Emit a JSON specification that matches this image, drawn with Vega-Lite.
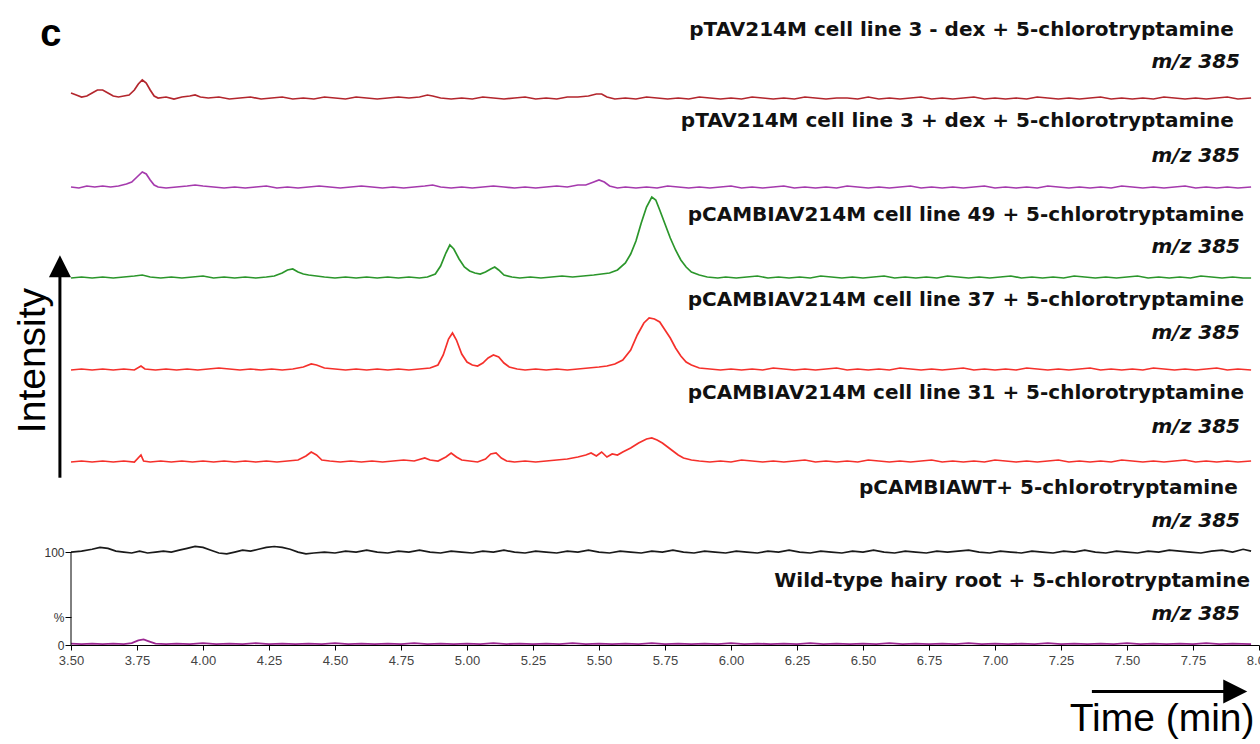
{
  "$schema": "https://vega.github.io/schema/vega-lite/v6.json",
  "width": 1188,
  "height": 645,
  "autosize": {"type": "none"},
  "padding": {"left": 71, "top": 0, "right": 1, "bottom": 99},
  "background": "white",
  "config": {"view": {"stroke": null}},
  "datasets": {
    "dex_minus": [
      {"t":3.50,"v":6},{"t":3.52,"v":4},{"t":3.54,"v":2},{"t":3.56,"v":3},{"t":3.58,"v":6},{"t":3.60,"v":9},{"t":3.62,"v":9},{"t":3.64,"v":6},{"t":3.66,"v":3},{"t":3.68,"v":2},{"t":3.70,"v":3},{"t":3.72,"v":4},{"t":3.74,"v":9},{"t":3.755,"v":15},{"t":3.77,"v":19},{"t":3.785,"v":16},{"t":3.80,"v":9},{"t":3.815,"v":3},{"t":3.83,"v":1},{"t":3.86,"v":2},{"t":3.89,"v":0},{"t":3.92,"v":2},{"t":3.95,"v":3},{"t":3.97,"v":4},{"t":3.99,"v":2},{"t":4.02,"v":1},{"t":4.06,"v":2},{"t":4.10,"v":0},{"t":4.14,"v":1},{"t":4.18,"v":2},{"t":4.22,"v":0},{"t":4.26,"v":1},{"t":4.30,"v":2},{"t":4.34,"v":0},{"t":4.38,"v":1},{"t":4.42,"v":0},{"t":4.46,"v":2},{"t":4.50,"v":1},{"t":4.54,"v":0},{"t":4.58,"v":2},{"t":4.62,"v":1},{"t":4.66,"v":0},{"t":4.70,"v":1},{"t":4.74,"v":2},{"t":4.78,"v":1},{"t":4.82,"v":2},{"t":4.85,"v":4},{"t":4.87,"v":3},{"t":4.90,"v":1},{"t":4.94,"v":0},{"t":4.98,"v":1},{"t":5.02,"v":0},{"t":5.06,"v":2},{"t":5.10,"v":1},{"t":5.14,"v":0},{"t":5.18,"v":1},{"t":5.22,"v":2},{"t":5.26,"v":0},{"t":5.30,"v":1},{"t":5.34,"v":0},{"t":5.38,"v":2},{"t":5.42,"v":2},{"t":5.46,"v":3},{"t":5.49,"v":5},{"t":5.51,"v":5},{"t":5.53,"v":2},{"t":5.56,"v":0},{"t":5.60,"v":1},{"t":5.64,"v":0},{"t":5.68,"v":2},{"t":5.72,"v":1},{"t":5.76,"v":0},{"t":5.80,"v":1},{"t":5.84,"v":0},{"t":5.88,"v":2},{"t":5.92,"v":1},{"t":5.96,"v":0},{"t":6.00,"v":1},{"t":6.04,"v":0},{"t":6.08,"v":2},{"t":6.12,"v":1},{"t":6.16,"v":0},{"t":6.20,"v":1},{"t":6.24,"v":0},{"t":6.28,"v":2},{"t":6.32,"v":1},{"t":6.36,"v":0},{"t":6.40,"v":1},{"t":6.44,"v":1},{"t":6.48,"v":0},{"t":6.52,"v":2},{"t":6.56,"v":0},{"t":6.60,"v":1},{"t":6.64,"v":0},{"t":6.68,"v":1},{"t":6.72,"v":2},{"t":6.76,"v":0},{"t":6.80,"v":1},{"t":6.84,"v":0},{"t":6.88,"v":1},{"t":6.92,"v":2},{"t":6.96,"v":0},{"t":7.00,"v":1},{"t":7.04,"v":0},{"t":7.08,"v":1},{"t":7.12,"v":0},{"t":7.16,"v":2},{"t":7.20,"v":1},{"t":7.24,"v":0},{"t":7.28,"v":1},{"t":7.32,"v":0},{"t":7.36,"v":1},{"t":7.40,"v":2},{"t":7.44,"v":0},{"t":7.48,"v":1},{"t":7.52,"v":0},{"t":7.56,"v":1},{"t":7.60,"v":0},{"t":7.64,"v":2},{"t":7.68,"v":1},{"t":7.72,"v":0},{"t":7.76,"v":1},{"t":7.80,"v":0},{"t":7.84,"v":1},{"t":7.88,"v":2},{"t":7.92,"v":0},{"t":7.97,"v":1}
    ],
    "dex_plus": [
      {"t":3.50,"v":1},{"t":3.53,"v":0},{"t":3.56,"v":2},{"t":3.59,"v":1},{"t":3.62,"v":2},{"t":3.65,"v":1},{"t":3.68,"v":2},{"t":3.71,"v":4},{"t":3.73,"v":6},{"t":3.75,"v":11},{"t":3.77,"v":16},{"t":3.785,"v":14},{"t":3.80,"v":8},{"t":3.815,"v":3},{"t":3.83,"v":1},{"t":3.86,"v":0},{"t":3.90,"v":1},{"t":3.94,"v":2},{"t":3.97,"v":3},{"t":4.00,"v":2},{"t":4.04,"v":1},{"t":4.08,"v":0},{"t":4.12,"v":1},{"t":4.16,"v":0},{"t":4.20,"v":1},{"t":4.24,"v":2},{"t":4.28,"v":0},{"t":4.32,"v":1},{"t":4.36,"v":0},{"t":4.40,"v":1},{"t":4.44,"v":2},{"t":4.48,"v":1},{"t":4.52,"v":0},{"t":4.56,"v":1},{"t":4.60,"v":2},{"t":4.64,"v":1},{"t":4.68,"v":0},{"t":4.72,"v":1},{"t":4.76,"v":0},{"t":4.80,"v":1},{"t":4.84,"v":2},{"t":4.87,"v":3},{"t":4.90,"v":1},{"t":4.94,"v":0},{"t":4.98,"v":1},{"t":5.02,"v":0},{"t":5.06,"v":1},{"t":5.10,"v":2},{"t":5.14,"v":1},{"t":5.18,"v":0},{"t":5.22,"v":1},{"t":5.26,"v":0},{"t":5.30,"v":1},{"t":5.34,"v":2},{"t":5.38,"v":1},{"t":5.42,"v":3},{"t":5.45,"v":3},{"t":5.48,"v":6},{"t":5.50,"v":8},{"t":5.52,"v":6},{"t":5.54,"v":2},{"t":5.57,"v":0},{"t":5.60,"v":1},{"t":5.64,"v":0},{"t":5.68,"v":1},{"t":5.72,"v":0},{"t":5.76,"v":2},{"t":5.80,"v":1},{"t":5.84,"v":0},{"t":5.88,"v":1},{"t":5.92,"v":0},{"t":5.96,"v":1},{"t":6.00,"v":2},{"t":6.04,"v":0},{"t":6.08,"v":1},{"t":6.12,"v":0},{"t":6.16,"v":1},{"t":6.20,"v":2},{"t":6.24,"v":0},{"t":6.28,"v":1},{"t":6.32,"v":0},{"t":6.36,"v":1},{"t":6.40,"v":0},{"t":6.44,"v":2},{"t":6.48,"v":1},{"t":6.52,"v":0},{"t":6.56,"v":1},{"t":6.60,"v":0},{"t":6.64,"v":1},{"t":6.68,"v":2},{"t":6.72,"v":0},{"t":6.76,"v":1},{"t":6.80,"v":0},{"t":6.84,"v":1},{"t":6.88,"v":0},{"t":6.92,"v":1},{"t":6.96,"v":2},{"t":7.00,"v":0},{"t":7.04,"v":1},{"t":7.08,"v":0},{"t":7.12,"v":1},{"t":7.16,"v":0},{"t":7.20,"v":2},{"t":7.24,"v":1},{"t":7.28,"v":0},{"t":7.32,"v":1},{"t":7.36,"v":0},{"t":7.40,"v":1},{"t":7.44,"v":0},{"t":7.48,"v":2},{"t":7.52,"v":1},{"t":7.56,"v":0},{"t":7.60,"v":1},{"t":7.64,"v":0},{"t":7.68,"v":1},{"t":7.72,"v":2},{"t":7.76,"v":0},{"t":7.80,"v":1},{"t":7.84,"v":0},{"t":7.88,"v":1},{"t":7.92,"v":0},{"t":7.97,"v":1}
    ],
    "line49": [
      {"t":3.50,"v":0},{"t":3.54,"v":1},{"t":3.58,"v":0},{"t":3.62,"v":1},{"t":3.66,"v":0},{"t":3.70,"v":1},{"t":3.74,"v":2},{"t":3.77,"v":3},{"t":3.80,"v":1},{"t":3.84,"v":0},{"t":3.88,"v":1},{"t":3.92,"v":0},{"t":3.96,"v":1},{"t":4.00,"v":2},{"t":4.04,"v":0},{"t":4.08,"v":1},{"t":4.12,"v":0},{"t":4.16,"v":1},{"t":4.20,"v":0},{"t":4.24,"v":1},{"t":4.27,"v":2},{"t":4.30,"v":5},{"t":4.32,"v":8},{"t":4.34,"v":9},{"t":4.36,"v":6},{"t":4.38,"v":4},{"t":4.40,"v":3},{"t":4.43,"v":2},{"t":4.46,"v":1},{"t":4.50,"v":0},{"t":4.54,"v":1},{"t":4.58,"v":0},{"t":4.62,"v":1},{"t":4.66,"v":0},{"t":4.70,"v":1},{"t":4.74,"v":0},{"t":4.78,"v":1},{"t":4.82,"v":0},{"t":4.85,"v":1},{"t":4.88,"v":4},{"t":4.90,"v":12},{"t":4.92,"v":25},{"t":4.935,"v":33},{"t":4.95,"v":29},{"t":4.97,"v":19},{"t":4.99,"v":11},{"t":5.01,"v":7},{"t":5.03,"v":5},{"t":5.05,"v":4},{"t":5.07,"v":6},{"t":5.09,"v":9},{"t":5.105,"v":11},{"t":5.12,"v":8},{"t":5.14,"v":3},{"t":5.17,"v":1},{"t":5.20,"v":0},{"t":5.24,"v":1},{"t":5.28,"v":0},{"t":5.32,"v":1},{"t":5.36,"v":2},{"t":5.40,"v":1},{"t":5.44,"v":2},{"t":5.48,"v":3},{"t":5.51,"v":4},{"t":5.54,"v":5},{"t":5.57,"v":8},{"t":5.60,"v":15},{"t":5.62,"v":24},{"t":5.64,"v":37},{"t":5.66,"v":55},{"t":5.68,"v":71},{"t":5.70,"v":81},{"t":5.715,"v":78},{"t":5.73,"v":68},{"t":5.75,"v":54},{"t":5.77,"v":40},{"t":5.79,"v":28},{"t":5.81,"v":18},{"t":5.83,"v":11},{"t":5.85,"v":6},{"t":5.88,"v":3},{"t":5.91,"v":1},{"t":5.95,"v":0},{"t":5.98,"v":1},{"t":6.02,"v":0},{"t":6.06,"v":1},{"t":6.10,"v":2},{"t":6.14,"v":0},{"t":6.18,"v":1},{"t":6.22,"v":0},{"t":6.26,"v":1},{"t":6.30,"v":0},{"t":6.34,"v":2},{"t":6.38,"v":1},{"t":6.42,"v":0},{"t":6.46,"v":1},{"t":6.50,"v":0},{"t":6.54,"v":1},{"t":6.58,"v":2},{"t":6.62,"v":0},{"t":6.66,"v":1},{"t":6.70,"v":0},{"t":6.74,"v":1},{"t":6.78,"v":0},{"t":6.82,"v":2},{"t":6.86,"v":1},{"t":6.90,"v":0},{"t":6.94,"v":1},{"t":6.98,"v":0},{"t":7.02,"v":1},{"t":7.06,"v":2},{"t":7.10,"v":0},{"t":7.14,"v":1},{"t":7.18,"v":0},{"t":7.22,"v":1},{"t":7.26,"v":0},{"t":7.30,"v":2},{"t":7.34,"v":1},{"t":7.38,"v":0},{"t":7.42,"v":1},{"t":7.46,"v":0},{"t":7.50,"v":1},{"t":7.54,"v":2},{"t":7.58,"v":0},{"t":7.62,"v":1},{"t":7.66,"v":0},{"t":7.70,"v":1},{"t":7.74,"v":0},{"t":7.78,"v":2},{"t":7.82,"v":1},{"t":7.86,"v":0},{"t":7.90,"v":1},{"t":7.94,"v":0},{"t":7.97,"v":0}
    ],
    "line37": [
      {"t":3.50,"v":0},{"t":3.54,"v":1},{"t":3.58,"v":0},{"t":3.62,"v":1},{"t":3.66,"v":0},{"t":3.70,"v":1},{"t":3.74,"v":0},{"t":3.765,"v":4},{"t":3.78,"v":1},{"t":3.82,"v":0},{"t":3.86,"v":1},{"t":3.90,"v":0},{"t":3.94,"v":1},{"t":3.98,"v":0},{"t":4.02,"v":1},{"t":4.06,"v":2},{"t":4.10,"v":1},{"t":4.14,"v":0},{"t":4.18,"v":1},{"t":4.22,"v":0},{"t":4.26,"v":1},{"t":4.30,"v":0},{"t":4.34,"v":1},{"t":4.38,"v":3},{"t":4.41,"v":6},{"t":4.43,"v":5},{"t":4.46,"v":2},{"t":4.50,"v":1},{"t":4.54,"v":0},{"t":4.58,"v":1},{"t":4.62,"v":0},{"t":4.66,"v":1},{"t":4.70,"v":0},{"t":4.74,"v":1},{"t":4.78,"v":0},{"t":4.82,"v":1},{"t":4.86,"v":2},{"t":4.89,"v":5},{"t":4.91,"v":15},{"t":4.93,"v":31},{"t":4.945,"v":37},{"t":4.96,"v":30},{"t":4.98,"v":16},{"t":5.00,"v":8},{"t":5.02,"v":5},{"t":5.04,"v":4},{"t":5.06,"v":7},{"t":5.08,"v":12},{"t":5.10,"v":15},{"t":5.12,"v":13},{"t":5.14,"v":7},{"t":5.16,"v":3},{"t":5.19,"v":1},{"t":5.22,"v":0},{"t":5.26,"v":1},{"t":5.30,"v":0},{"t":5.34,"v":1},{"t":5.38,"v":0},{"t":5.42,"v":1},{"t":5.46,"v":2},{"t":5.50,"v":3},{"t":5.53,"v":4},{"t":5.56,"v":6},{"t":5.59,"v":10},{"t":5.62,"v":20},{"t":5.645,"v":35},{"t":5.67,"v":47},{"t":5.69,"v":52},{"t":5.71,"v":51},{"t":5.73,"v":48},{"t":5.75,"v":40},{"t":5.77,"v":32},{"t":5.79,"v":22},{"t":5.81,"v":14},{"t":5.83,"v":8},{"t":5.85,"v":5},{"t":5.88,"v":2},{"t":5.92,"v":1},{"t":5.96,"v":0},{"t":6.00,"v":1},{"t":6.04,"v":0},{"t":6.08,"v":1},{"t":6.12,"v":0},{"t":6.16,"v":2},{"t":6.20,"v":1},{"t":6.24,"v":0},{"t":6.28,"v":1},{"t":6.32,"v":0},{"t":6.36,"v":1},{"t":6.40,"v":2},{"t":6.44,"v":0},{"t":6.48,"v":1},{"t":6.52,"v":0},{"t":6.56,"v":1},{"t":6.60,"v":0},{"t":6.64,"v":2},{"t":6.68,"v":1},{"t":6.72,"v":0},{"t":6.76,"v":1},{"t":6.80,"v":0},{"t":6.84,"v":1},{"t":6.88,"v":2},{"t":6.92,"v":0},{"t":6.96,"v":1},{"t":7.00,"v":0},{"t":7.04,"v":1},{"t":7.08,"v":0},{"t":7.12,"v":2},{"t":7.16,"v":1},{"t":7.20,"v":0},{"t":7.24,"v":1},{"t":7.28,"v":0},{"t":7.32,"v":1},{"t":7.36,"v":2},{"t":7.40,"v":0},{"t":7.44,"v":1},{"t":7.48,"v":0},{"t":7.52,"v":1},{"t":7.56,"v":0},{"t":7.60,"v":2},{"t":7.64,"v":1},{"t":7.68,"v":0},{"t":7.72,"v":1},{"t":7.76,"v":0},{"t":7.80,"v":1},{"t":7.84,"v":2},{"t":7.88,"v":0},{"t":7.92,"v":1},{"t":7.97,"v":0}
    ],
    "line31": [
      {"t":3.50,"v":0},{"t":3.54,"v":1},{"t":3.58,"v":0},{"t":3.62,"v":1},{"t":3.66,"v":0},{"t":3.70,"v":1},{"t":3.74,"v":0},{"t":3.765,"v":7},{"t":3.775,"v":1},{"t":3.80,"v":0},{"t":3.84,"v":1},{"t":3.88,"v":0},{"t":3.92,"v":1},{"t":3.96,"v":0},{"t":4.00,"v":1},{"t":4.04,"v":0},{"t":4.08,"v":1},{"t":4.12,"v":0},{"t":4.16,"v":1},{"t":4.20,"v":0},{"t":4.24,"v":1},{"t":4.28,"v":0},{"t":4.32,"v":1},{"t":4.36,"v":2},{"t":4.39,"v":6},{"t":4.41,"v":10},{"t":4.43,"v":7},{"t":4.45,"v":2},{"t":4.48,"v":1},{"t":4.52,"v":0},{"t":4.56,"v":1},{"t":4.60,"v":0},{"t":4.64,"v":1},{"t":4.68,"v":0},{"t":4.72,"v":1},{"t":4.76,"v":2},{"t":4.80,"v":1},{"t":4.84,"v":4},{"t":4.86,"v":2},{"t":4.89,"v":1},{"t":4.92,"v":5},{"t":4.94,"v":9},{"t":4.96,"v":5},{"t":4.98,"v":2},{"t":5.01,"v":1},{"t":5.04,"v":0},{"t":5.07,"v":3},{"t":5.09,"v":8},{"t":5.11,"v":9},{"t":5.13,"v":4},{"t":5.15,"v":1},{"t":5.18,"v":0},{"t":5.22,"v":1},{"t":5.26,"v":0},{"t":5.30,"v":1},{"t":5.34,"v":2},{"t":5.38,"v":3},{"t":5.42,"v":5},{"t":5.45,"v":7},{"t":5.47,"v":9},{"t":5.49,"v":6},{"t":5.51,"v":10},{"t":5.53,"v":5},{"t":5.55,"v":8},{"t":5.57,"v":7},{"t":5.59,"v":10},{"t":5.62,"v":14},{"t":5.65,"v":19},{"t":5.68,"v":23},{"t":5.70,"v":24},{"t":5.72,"v":22},{"t":5.74,"v":19},{"t":5.76,"v":15},{"t":5.78,"v":11},{"t":5.80,"v":7},{"t":5.82,"v":4},{"t":5.85,"v":2},{"t":5.88,"v":1},{"t":5.92,"v":0},{"t":5.96,"v":1},{"t":6.00,"v":0},{"t":6.04,"v":2},{"t":6.08,"v":1},{"t":6.12,"v":0},{"t":6.16,"v":1},{"t":6.20,"v":0},{"t":6.24,"v":1},{"t":6.28,"v":2},{"t":6.32,"v":0},{"t":6.36,"v":1},{"t":6.40,"v":0},{"t":6.44,"v":1},{"t":6.48,"v":0},{"t":6.52,"v":2},{"t":6.56,"v":1},{"t":6.60,"v":0},{"t":6.64,"v":1},{"t":6.68,"v":0},{"t":6.72,"v":1},{"t":6.76,"v":2},{"t":6.80,"v":0},{"t":6.84,"v":1},{"t":6.88,"v":0},{"t":6.92,"v":1},{"t":6.96,"v":0},{"t":7.00,"v":2},{"t":7.04,"v":1},{"t":7.08,"v":0},{"t":7.12,"v":1},{"t":7.16,"v":0},{"t":7.20,"v":1},{"t":7.24,"v":2},{"t":7.28,"v":0},{"t":7.32,"v":1},{"t":7.36,"v":0},{"t":7.40,"v":1},{"t":7.44,"v":0},{"t":7.48,"v":2},{"t":7.52,"v":1},{"t":7.56,"v":0},{"t":7.60,"v":1},{"t":7.64,"v":0},{"t":7.68,"v":1},{"t":7.72,"v":2},{"t":7.76,"v":0},{"t":7.80,"v":1},{"t":7.84,"v":0},{"t":7.88,"v":1},{"t":7.92,"v":0},{"t":7.97,"v":1}
    ],
    "wt_vector": [
      {"t":3.50,"v":100},{"t":3.54,"v":101},{"t":3.58,"v":103},{"t":3.61,"v":105},{"t":3.64,"v":104},{"t":3.67,"v":101},{"t":3.70,"v":100},{"t":3.73,"v":99},{"t":3.76,"v":101},{"t":3.79,"v":99},{"t":3.82,"v":100},{"t":3.85,"v":101},{"t":3.88,"v":100},{"t":3.91,"v":102},{"t":3.94,"v":104},{"t":3.97,"v":106},{"t":4.00,"v":105},{"t":4.03,"v":102},{"t":4.06,"v":99},{"t":4.09,"v":98},{"t":4.12,"v":100},{"t":4.15,"v":102},{"t":4.18,"v":101},{"t":4.21,"v":103},{"t":4.24,"v":105},{"t":4.27,"v":106},{"t":4.30,"v":105},{"t":4.33,"v":103},{"t":4.36,"v":100},{"t":4.39,"v":98},{"t":4.42,"v":99},{"t":4.46,"v":100},{"t":4.50,"v":99},{"t":4.54,"v":101},{"t":4.58,"v":100},{"t":4.62,"v":102},{"t":4.66,"v":100},{"t":4.70,"v":99},{"t":4.74,"v":101},{"t":4.78,"v":100},{"t":4.82,"v":102},{"t":4.86,"v":100},{"t":4.90,"v":99},{"t":4.94,"v":101},{"t":4.98,"v":100},{"t":5.02,"v":99},{"t":5.06,"v":101},{"t":5.10,"v":100},{"t":5.14,"v":102},{"t":5.18,"v":100},{"t":5.22,"v":99},{"t":5.26,"v":101},{"t":5.30,"v":100},{"t":5.34,"v":99},{"t":5.38,"v":101},{"t":5.42,"v":100},{"t":5.46,"v":102},{"t":5.50,"v":100},{"t":5.54,"v":99},{"t":5.58,"v":101},{"t":5.62,"v":100},{"t":5.66,"v":99},{"t":5.70,"v":101},{"t":5.74,"v":100},{"t":5.78,"v":102},{"t":5.82,"v":100},{"t":5.86,"v":99},{"t":5.90,"v":101},{"t":5.94,"v":100},{"t":5.98,"v":99},{"t":6.02,"v":101},{"t":6.06,"v":100},{"t":6.10,"v":99},{"t":6.14,"v":101},{"t":6.18,"v":100},{"t":6.22,"v":102},{"t":6.26,"v":100},{"t":6.30,"v":99},{"t":6.34,"v":101},{"t":6.38,"v":100},{"t":6.42,"v":99},{"t":6.46,"v":101},{"t":6.50,"v":100},{"t":6.54,"v":102},{"t":6.58,"v":100},{"t":6.62,"v":99},{"t":6.66,"v":101},{"t":6.70,"v":100},{"t":6.74,"v":99},{"t":6.78,"v":101},{"t":6.82,"v":100},{"t":6.86,"v":101},{"t":6.90,"v":102},{"t":6.94,"v":100},{"t":6.98,"v":99},{"t":7.02,"v":101},{"t":7.06,"v":100},{"t":7.10,"v":99},{"t":7.14,"v":101},{"t":7.18,"v":100},{"t":7.22,"v":99},{"t":7.26,"v":101},{"t":7.30,"v":100},{"t":7.34,"v":102},{"t":7.38,"v":100},{"t":7.42,"v":99},{"t":7.46,"v":101},{"t":7.50,"v":100},{"t":7.54,"v":99},{"t":7.58,"v":101},{"t":7.62,"v":100},{"t":7.66,"v":102},{"t":7.70,"v":101},{"t":7.74,"v":100},{"t":7.78,"v":99},{"t":7.82,"v":101},{"t":7.86,"v":102},{"t":7.90,"v":100},{"t":7.94,"v":103},{"t":7.97,"v":101}
    ],
    "wild_type": [
      {"t":3.50,"v":1.5},{"t":3.54,"v":1},{"t":3.58,"v":1.5},{"t":3.62,"v":1},{"t":3.66,"v":1.5},{"t":3.70,"v":1},{"t":3.73,"v":2},{"t":3.755,"v":5},{"t":3.775,"v":6},{"t":3.795,"v":4},{"t":3.82,"v":1.5},{"t":3.86,"v":1},{"t":3.90,"v":1.5},{"t":3.95,"v":1},{"t":4.00,"v":2},{"t":4.05,"v":1},{"t":4.10,"v":1.5},{"t":4.15,"v":1},{"t":4.20,"v":2},{"t":4.25,"v":1},{"t":4.30,"v":1.5},{"t":4.35,"v":1},{"t":4.40,"v":1.5},{"t":4.45,"v":1},{"t":4.50,"v":2},{"t":4.55,"v":1},{"t":4.60,"v":1.5},{"t":4.65,"v":1},{"t":4.70,"v":1.5},{"t":4.75,"v":1},{"t":4.80,"v":2},{"t":4.85,"v":1},{"t":4.90,"v":1.5},{"t":4.95,"v":1},{"t":5.00,"v":1.5},{"t":5.05,"v":1},{"t":5.10,"v":2},{"t":5.15,"v":1},{"t":5.20,"v":1.5},{"t":5.25,"v":1},{"t":5.30,"v":1.5},{"t":5.35,"v":1},{"t":5.40,"v":2},{"t":5.45,"v":1},{"t":5.50,"v":1.5},{"t":5.55,"v":1},{"t":5.60,"v":1.5},{"t":5.65,"v":1},{"t":5.70,"v":2},{"t":5.75,"v":1},{"t":5.80,"v":1.5},{"t":5.85,"v":1},{"t":5.90,"v":1.5},{"t":5.95,"v":1},{"t":6.00,"v":2},{"t":6.05,"v":1},{"t":6.10,"v":1.5},{"t":6.15,"v":1},{"t":6.20,"v":1.5},{"t":6.25,"v":1},{"t":6.30,"v":2},{"t":6.35,"v":1},{"t":6.40,"v":1.5},{"t":6.45,"v":1},{"t":6.50,"v":1.5},{"t":6.55,"v":1},{"t":6.60,"v":2},{"t":6.65,"v":1},{"t":6.70,"v":1.5},{"t":6.75,"v":1},{"t":6.80,"v":1.5},{"t":6.85,"v":1},{"t":6.90,"v":2},{"t":6.95,"v":1},{"t":7.00,"v":1.5},{"t":7.05,"v":1},{"t":7.10,"v":1.5},{"t":7.15,"v":1},{"t":7.20,"v":2},{"t":7.25,"v":1},{"t":7.30,"v":1.5},{"t":7.35,"v":1},{"t":7.40,"v":1.5},{"t":7.45,"v":1},{"t":7.50,"v":2},{"t":7.55,"v":1},{"t":7.60,"v":1.5},{"t":7.65,"v":1},{"t":7.70,"v":1.5},{"t":7.75,"v":1},{"t":7.80,"v":2},{"t":7.85,"v":1},{"t":7.90,"v":1.5},{"t":7.97,"v":1}
    ]
  },
  "layer": [
    {
      "data": {"name": "wt_vector"},
      "mark": {"type": "line", "color": "#1a1a1a", "strokeWidth": 1.7},
      "encoding": {
        "x": {
          "field": "t", "type": "quantitative",
          "scale": {"domain": [3.5, 8], "nice": false, "zero": false},
          "axis": {
            "values": [3.5,3.75,4,4.25,4.5,4.75,5,5.25,5.5,5.75,6,6.25,6.5,6.75,7,7.25,7.5,7.75,8],
            "format": ".2f",
            "tickSize": 5,
            "grid": false,
            "domainColor": "#000",
            "tickColor": "#000",
            "labelFont": "Liberation Sans",
            "labelFontSize": 13,
            "labelColor": "#444",
            "labelPadding": 4,
            "labelOverlap": false,
            "labelFlush": false,
            "title": "Time (min)",
            "titleFont": "Liberation Sans",
            "titleFontSize": 39,
            "titleFontWeight": "normal",
            "titleColor": "#000",
            "titleAnchor": "end",
            "titleAlign": "right",
            "titleBaseline": "alphabetic",
            "titleX": 1183,
            "titleY": 85
          }
        },
        "y": {
          "field": "v", "type": "quantitative",
          "scale": {"domain": [0, 694], "nice": false, "zero": false},
          "axis": {
            "values": [0, 30, 100],
            "domain": false,
            "grid": false,
            "labelExpr": "datum.value == 30 ? '%' : datum.label",
            "tickSize": 6,
            "tickColor": "#000",
            "labelFont": "Liberation Sans",
            "labelFontSize": 12,
            "labelColor": "#333",
            "labelPadding": 1,
            "labelOverlap": false,
            "title": "Intensity",
            "titleFont": "Liberation Sans",
            "titleFontSize": 39,
            "titleFontWeight": "normal",
            "titleColor": "#000",
            "titleAngle": 270,
            "titleAlign": "center",
            "titleBaseline": "middle",
            "titleX": -39,
            "titleY": 360
          }
        }
      }
    },
    {
      "data": {"name": "wild_type"},
      "mark": {"type": "line", "color": "#9a2690", "strokeWidth": 1.8},
      "encoding": {
        "x": {"field": "t", "type": "quantitative", "scale": {"domain": [3.5, 8], "nice": false, "zero": false}},
        "y": {"field": "v", "type": "quantitative", "scale": {"domain": [0, 694], "nice": false, "zero": false}, "axis": null}
      }
    },
    {
      "data": {"values": [{}]},
      "mark": {"type": "rule", "color": "#000", "strokeWidth": 1},
      "encoding": {
        "x": {"datum": 3.5, "type": "quantitative", "scale": {"domain": [3.5, 8], "nice": false, "zero": false}},
        "y": {"datum": 0, "type": "quantitative", "scale": {"domain": [0, 694], "nice": false, "zero": false}, "axis": null},
        "y2": {"datum": 100}
      }
    },
    {
      "data": {"values": [{"label": "pCAMBIAWT+ 5-chlorotryptamine", "mz": "m/z 385"}]},
      "mark": {"type": "text", "font": "DejaVu Sans", "fontWeight": "bold", "fontSize": 20, "align": "right", "baseline": "middle", "color": "#111"},
      "encoding": {
        "x": {"datum": 7.92, "type": "quantitative", "scale": {"domain": [3.5, 8], "nice": false, "zero": false}},
        "y": {"datum": 168.8, "type": "quantitative", "scale": {"domain": [0, 694], "nice": false, "zero": false}, "axis": null},
        "text": {"field": "label"}
      }
    },
    {
      "data": {"values": [{"label": "pCAMBIAWT+ 5-chlorotryptamine", "mz": "m/z 385"}]},
      "mark": {"type": "text", "font": "DejaVu Sans", "fontWeight": "bold", "fontStyle": "italic", "fontSize": 20, "align": "right", "baseline": "middle", "color": "#111"},
      "encoding": {
        "x": {"datum": 7.928, "type": "quantitative", "scale": {"domain": [3.5, 8], "nice": false, "zero": false}},
        "y": {"datum": 133.3, "type": "quantitative", "scale": {"domain": [0, 694], "nice": false, "zero": false}, "axis": null},
        "text": {"field": "mz"}
      }
    },
    {
      "data": {"values": [{"label": "Wild-type hairy root + 5-chlorotryptamine", "mz": "m/z 385"}]},
      "mark": {"type": "text", "font": "DejaVu Sans", "fontWeight": "bold", "fontSize": 20, "align": "right", "baseline": "middle", "color": "#111"},
      "encoding": {
        "x": {"datum": 7.966, "type": "quantitative", "scale": {"domain": [3.5, 8], "nice": false, "zero": false}},
        "y": {"datum": 68.8, "type": "quantitative", "scale": {"domain": [0, 694], "nice": false, "zero": false}, "axis": null},
        "text": {"field": "label"}
      }
    },
    {
      "data": {"values": [{"label": "Wild-type hairy root + 5-chlorotryptamine", "mz": "m/z 385"}]},
      "mark": {"type": "text", "font": "DejaVu Sans", "fontWeight": "bold", "fontStyle": "italic", "fontSize": 20, "align": "right", "baseline": "middle", "color": "#111"},
      "encoding": {
        "x": {"datum": 7.928, "type": "quantitative", "scale": {"domain": [3.5, 8], "nice": false, "zero": false}},
        "y": {"datum": 33.3, "type": "quantitative", "scale": {"domain": [0, 694], "nice": false, "zero": false}, "axis": null},
        "text": {"field": "mz"}
      }
    },
    {
      "data": {"values": [{}]},
      "mark": {"type": "rule", "color": "#000", "strokeWidth": 3},
      "encoding": {
        "x": {"datum": 3.458, "type": "quantitative", "scale": {"domain": [3.5, 8], "nice": false, "zero": false}},
        "y": {"datum": 180, "type": "quantitative", "scale": {"domain": [0, 694], "nice": false, "zero": false}, "axis": null},
        "y2": {"datum": 398}
      }
    },
    {
      "data": {"values": [{}]},
      "mark": {"type": "point", "shape": "M-1,1L0,-1L1,1Z", "size": 484, "filled": true, "color": "#000", "opacity": 1},
      "encoding": {
        "x": {"datum": 3.458, "type": "quantitative", "scale": {"domain": [3.5, 8], "nice": false, "zero": false}},
        "y": {"datum": 407.5, "type": "quantitative", "scale": {"domain": [0, 694], "nice": false, "zero": false}, "axis": null}
      }
    },
    {
      "data": {"values": [{}]},
      "mark": {"type": "rule", "color": "#000", "strokeWidth": 3},
      "encoding": {
        "x": {"datum": 7.367, "type": "quantitative", "scale": {"domain": [3.5, 8], "nice": false, "zero": false}},
        "x2": {"datum": 7.87},
        "y": {"datum": -50, "type": "quantitative", "scale": {"domain": [0, 694], "nice": false, "zero": false}, "axis": null}
      }
    },
    {
      "data": {"values": [{}]},
      "mark": {"type": "point", "shape": "M-1,-1L1,0L-1,1Z", "size": 576, "filled": true, "color": "#000", "opacity": 1},
      "encoding": {
        "x": {"datum": 7.91, "type": "quantitative", "scale": {"domain": [3.5, 8], "nice": false, "zero": false}},
        "y": {"datum": -50, "type": "quantitative", "scale": {"domain": [0, 694], "nice": false, "zero": false}, "axis": null}
      }
    },
    {
      "data": {"values": [{"panel": "c"}]},
      "mark": {"type": "text", "font": "Liberation Sans", "fontWeight": "bold", "fontSize": 38, "align": "center", "baseline": "alphabetic", "color": "#000"},
      "encoding": {
        "x": {"datum": 3.424, "type": "quantitative", "scale": {"domain": [3.5, 8], "nice": false, "zero": false}},
        "y": {"datum": 645, "type": "quantitative", "scale": {"domain": [0, 694], "nice": false, "zero": false}, "axis": null},
        "text": {"field": "panel"}
      }
    },
    {
      "data": {"name": "dex_minus"},
      "mark": {"type": "line", "color": "#b3262d", "strokeWidth": 1.7},
      "encoding": {
        "x": {"field": "t", "type": "quantitative", "scale": {"domain": [3.5, 8], "nice": false, "zero": false}},
        "y": {"field": "v", "type": "quantitative", "scale": {"domain": [-546, 99], "nice": false, "zero": false}, "axis": null}
      }
    },
    {
      "data": {"values": [{"label": "pTAV214M cell line 3 - dex + 5-chlorotryptamine", "mz": "m/z 385"}]},
      "mark": {"type": "text", "font": "DejaVu Sans", "fontWeight": "bold", "fontSize": 20, "align": "right", "baseline": "middle", "color": "#111"},
      "encoding": {
        "x": {"datum": 7.905, "type": "quantitative", "scale": {"domain": [3.5, 8], "nice": false, "zero": false}},
        "y": {"datum": 69, "type": "quantitative", "scale": {"domain": [-546, 99], "nice": false, "zero": false}, "axis": null},
        "text": {"field": "label"}
      }
    },
    {
      "data": {"values": [{"label": "pTAV214M cell line 3 - dex + 5-chlorotryptamine", "mz": "m/z 385"}]},
      "mark": {"type": "text", "font": "DejaVu Sans", "fontWeight": "bold", "fontStyle": "italic", "fontSize": 20, "align": "right", "baseline": "middle", "color": "#111"},
      "encoding": {
        "x": {"datum": 7.928, "type": "quantitative", "scale": {"domain": [3.5, 8], "nice": false, "zero": false}},
        "y": {"datum": 37, "type": "quantitative", "scale": {"domain": [-546, 99], "nice": false, "zero": false}, "axis": null},
        "text": {"field": "mz"}
      }
    },
    {
      "data": {"name": "dex_plus"},
      "mark": {"type": "line", "color": "#a53aad", "strokeWidth": 1.7},
      "encoding": {
        "x": {"field": "t", "type": "quantitative", "scale": {"domain": [3.5, 8], "nice": false, "zero": false}},
        "y": {"field": "v", "type": "quantitative", "scale": {"domain": [-457, 188], "nice": false, "zero": false}, "axis": null}
      }
    },
    {
      "data": {"values": [{"label": "pTAV214M cell line 3 + dex + 5-chlorotryptamine", "mz": "m/z 385"}]},
      "mark": {"type": "text", "font": "DejaVu Sans", "fontWeight": "bold", "fontSize": 20, "align": "right", "baseline": "middle", "color": "#111"},
      "encoding": {
        "x": {"datum": 7.905, "type": "quantitative", "scale": {"domain": [3.5, 8], "nice": false, "zero": false}},
        "y": {"datum": 67, "type": "quantitative", "scale": {"domain": [-457, 188], "nice": false, "zero": false}, "axis": null},
        "text": {"field": "label"}
      }
    },
    {
      "data": {"values": [{"label": "pTAV214M cell line 3 + dex + 5-chlorotryptamine", "mz": "m/z 385"}]},
      "mark": {"type": "text", "font": "DejaVu Sans", "fontWeight": "bold", "fontStyle": "italic", "fontSize": 20, "align": "right", "baseline": "middle", "color": "#111"},
      "encoding": {
        "x": {"datum": 7.928, "type": "quantitative", "scale": {"domain": [3.5, 8], "nice": false, "zero": false}},
        "y": {"datum": 32, "type": "quantitative", "scale": {"domain": [-457, 188], "nice": false, "zero": false}, "axis": null},
        "text": {"field": "mz"}
      }
    },
    {
      "data": {"name": "line49"},
      "mark": {"type": "line", "color": "#2b962b", "strokeWidth": 1.7},
      "encoding": {
        "x": {"field": "t", "type": "quantitative", "scale": {"domain": [3.5, 8], "nice": false, "zero": false}},
        "y": {"field": "v", "type": "quantitative", "scale": {"domain": [-367, 278], "nice": false, "zero": false}, "axis": null}
      }
    },
    {
      "data": {"values": [{"label": "pCAMBIAV214M cell line 49 + 5-chlorotryptamine", "mz": "m/z 385"}]},
      "mark": {"type": "text", "font": "DejaVu Sans", "fontWeight": "bold", "fontSize": 20, "align": "right", "baseline": "middle", "color": "#111"},
      "encoding": {
        "x": {"datum": 7.943, "type": "quantitative", "scale": {"domain": [3.5, 8], "nice": false, "zero": false}},
        "y": {"datum": 63, "type": "quantitative", "scale": {"domain": [-367, 278], "nice": false, "zero": false}, "axis": null},
        "text": {"field": "label"}
      }
    },
    {
      "data": {"values": [{"label": "pCAMBIAV214M cell line 49 + 5-chlorotryptamine", "mz": "m/z 385"}]},
      "mark": {"type": "text", "font": "DejaVu Sans", "fontWeight": "bold", "fontStyle": "italic", "fontSize": 20, "align": "right", "baseline": "middle", "color": "#111"},
      "encoding": {
        "x": {"datum": 7.928, "type": "quantitative", "scale": {"domain": [3.5, 8], "nice": false, "zero": false}},
        "y": {"datum": 31, "type": "quantitative", "scale": {"domain": [-367, 278], "nice": false, "zero": false}, "axis": null},
        "text": {"field": "mz"}
      }
    },
    {
      "data": {"name": "line37"},
      "mark": {"type": "line", "color": "#f5302b", "strokeWidth": 1.7},
      "encoding": {
        "x": {"field": "t", "type": "quantitative", "scale": {"domain": [3.5, 8], "nice": false, "zero": false}},
        "y": {"field": "v", "type": "quantitative", "scale": {"domain": [-275, 370], "nice": false, "zero": false}, "axis": null}
      }
    },
    {
      "data": {"values": [{"label": "pCAMBIAV214M cell line 37 + 5-chlorotryptamine", "mz": "m/z 385"}]},
      "mark": {"type": "text", "font": "DejaVu Sans", "fontWeight": "bold", "fontSize": 20, "align": "right", "baseline": "middle", "color": "#111"},
      "encoding": {
        "x": {"datum": 7.943, "type": "quantitative", "scale": {"domain": [3.5, 8], "nice": false, "zero": false}},
        "y": {"datum": 70, "type": "quantitative", "scale": {"domain": [-275, 370], "nice": false, "zero": false}, "axis": null},
        "text": {"field": "label"}
      }
    },
    {
      "data": {"values": [{"label": "pCAMBIAV214M cell line 37 + 5-chlorotryptamine", "mz": "m/z 385"}]},
      "mark": {"type": "text", "font": "DejaVu Sans", "fontWeight": "bold", "fontStyle": "italic", "fontSize": 20, "align": "right", "baseline": "middle", "color": "#111"},
      "encoding": {
        "x": {"datum": 7.928, "type": "quantitative", "scale": {"domain": [3.5, 8], "nice": false, "zero": false}},
        "y": {"datum": 37, "type": "quantitative", "scale": {"domain": [-275, 370], "nice": false, "zero": false}, "axis": null},
        "text": {"field": "mz"}
      }
    },
    {
      "data": {"name": "line31"},
      "mark": {"type": "line", "color": "#f5302b", "strokeWidth": 1.7},
      "encoding": {
        "x": {"field": "t", "type": "quantitative", "scale": {"domain": [3.5, 8], "nice": false, "zero": false}},
        "y": {"field": "v", "type": "quantitative", "scale": {"domain": [-183, 462], "nice": false, "zero": false}, "axis": null}
      }
    },
    {
      "data": {"values": [{"label": "pCAMBIAV214M cell line 31 + 5-chlorotryptamine", "mz": "m/z 385"}]},
      "mark": {"type": "text", "font": "DejaVu Sans", "fontWeight": "bold", "fontSize": 20, "align": "right", "baseline": "middle", "color": "#111"},
      "encoding": {
        "x": {"datum": 7.943, "type": "quantitative", "scale": {"domain": [3.5, 8], "nice": false, "zero": false}},
        "y": {"datum": 69, "type": "quantitative", "scale": {"domain": [-183, 462], "nice": false, "zero": false}, "axis": null},
        "text": {"field": "label"}
      }
    },
    {
      "data": {"values": [{"label": "pCAMBIAV214M cell line 31 + 5-chlorotryptamine", "mz": "m/z 385"}]},
      "mark": {"type": "text", "font": "DejaVu Sans", "fontWeight": "bold", "fontStyle": "italic", "fontSize": 20, "align": "right", "baseline": "middle", "color": "#111"},
      "encoding": {
        "x": {"datum": 7.928, "type": "quantitative", "scale": {"domain": [3.5, 8], "nice": false, "zero": false}},
        "y": {"datum": 35, "type": "quantitative", "scale": {"domain": [-183, 462], "nice": false, "zero": false}, "axis": null},
        "text": {"field": "mz"}
      }
    }
  ],
  "resolve": {"scale": {"y": "independent"}}
}
